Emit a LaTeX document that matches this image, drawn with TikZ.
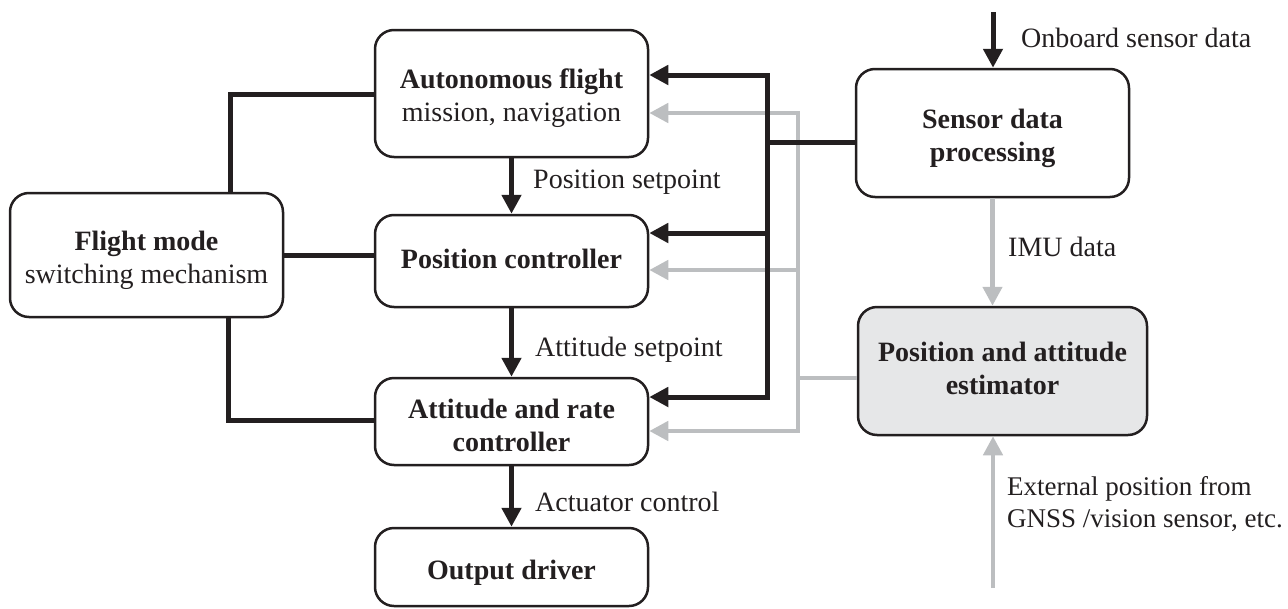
\documentclass[tikz,border=0pt]{standalone}
\usepackage{fontspec}
\setmainfont{Liberation Serif}
\usetikzlibrary{arrows.meta}
\definecolor{ink}{HTML}{231F20}
\definecolor{fb}{HTML}{BCBEC0}
\definecolor{estfill}{HTML}{E6E7E8}
\newcommand\boxtext[2]{\raisebox{#1}[\height][\depth]{\begin{tabular}{@{}c@{}}#2\end{tabular}}}
\begin{document}
\begin{tikzpicture}[x=1pt,y=-1pt,
  box/.style={draw=ink,line width=2.5pt,rounded corners=19pt,
    text=ink,font=\fontsize{28}{33}\selectfont,inner sep=0pt},
  lbl/.style={text=ink,font=\fontsize{28}{33}\selectfont,inner sep=0pt,align=left},
  blk/.style={draw=ink,line width=5pt},
  gry/.style={draw=fb,line width=4.5pt},
  tip/.style={-{Triangle[length=19pt,width=19pt]}},
  tips/.style={{Triangle[length=19pt,width=19pt]}-{Triangle[length=19pt,width=19pt]}}
]
\useasboundingbox (0,0) rectangle (1288,608);
% boxes
\node[box,minimum width=273pt,minimum height=127pt] (auto) at (511.5,93.5)
  {\boxtext{-5pt}{\textbf{Autonomous flight}\\mission, navigation}};
\node[box,minimum width=273pt,minimum height=92pt] (pos) at (511.5,261)
  {\boxtext{-1pt}{\textbf{Position controller}}};
\node[box,minimum width=273pt,minimum height=87pt] (att) at (511.5,421.5)
  {\boxtext{-7pt}{\textbf{Attitude and rate}\\\textbf{controller}}};
\node[box,minimum width=273pt,minimum height=78pt] (out) at (511.5,567)
  {\boxtext{-6pt}{\textbf{Output driver}}};
\node[box,minimum width=273pt,minimum height=124pt] (fm) at (146.5,255)
  {\boxtext{-5pt}{\textbf{Flight mode}\\switching mechanism}};
\node[box,minimum width=273pt,minimum height=128pt] (sdp) at (992.5,133)
  {\boxtext{-5pt}{\textbf{Sensor data}\\\textbf{processing}}};
\node[box,fill=estfill,minimum width=289pt,minimum height=128pt] (est) at (1002.5,371)
  {\boxtext{0pt}{\textbf{Position and attitude}\\\textbf{estimator}}};
% coordinates
\coordinate (t1) at (767,75);
\coordinate (t2) at (767,397);
\coordinate (t3) at (767,233);
\coordinate (t4) at (767,142);
\coordinate (g1) at (798,113);
\coordinate (g2) at (798,431);
\coordinate (g3) at (798,270);
\coordinate (g4) at (798,378);
\coordinate (onb) at (993,12);
\coordinate (ext) at (993,588);
\coordinate (f1) at (230,94);
\coordinate (f2) at (228,420);
% grey feedback
\draw[gry,tips] (auto.east |- g1) -- (g1) -- (g2) -- (att.east |- g2);
\draw[gry,tip] (g3) -- (pos.east |- g3);
\draw[gry] (est.west |- g4) -- (g4);
\draw[gry,tip] (sdp.south) -- (sdp.south |- est.north);
\draw[gry,tip] (ext) -- (ext |- est.south);
% black feedback
\draw[blk,tips] (auto.east |- t1) -- (t1) -- (t2) -- (att.east |- t2);
\draw[blk,tip] (t3) -- (pos.east |- t3);
\draw[blk] (sdp.west |- t4) -- (t4);
\draw[blk,tip] (onb) -- (onb |- sdp.north);
% main chain
\draw[blk,tip] (auto.south) -- (pos.north);
\draw[blk,tip] (pos.south) -- (att.north);
\draw[blk,tip] (att.south) -- (out.north);
% flight mode links
\draw[blk] (fm.north -| f1) -- (f1) -- (auto.west |- f1);
\draw[blk] (fm.east) -- (fm.east -| pos.west);
\draw[blk] (fm.south -| f2) -- (f2) -- (att.west |- f2);
% labels
\node[lbl,anchor=west] (l1) at (533,182) {Position setpoint};
\node[lbl,anchor=west] (l2) at (535,350) {Attitude setpoint};
\node[lbl,anchor=west] (l3) at (535,502) {Actuator control};
\node[lbl,anchor=west] (l4) at (1021,38) {Onboard sensor data};
\node[lbl,anchor=west] (l5) at (1008,247) {IMU data};
\node[lbl,anchor=west,font=\fontsize{27}{32}\selectfont] (l6) at (1007,504) {External position from\\GNSS /vision sensor, etc.};
\end{tikzpicture}
\end{document}
